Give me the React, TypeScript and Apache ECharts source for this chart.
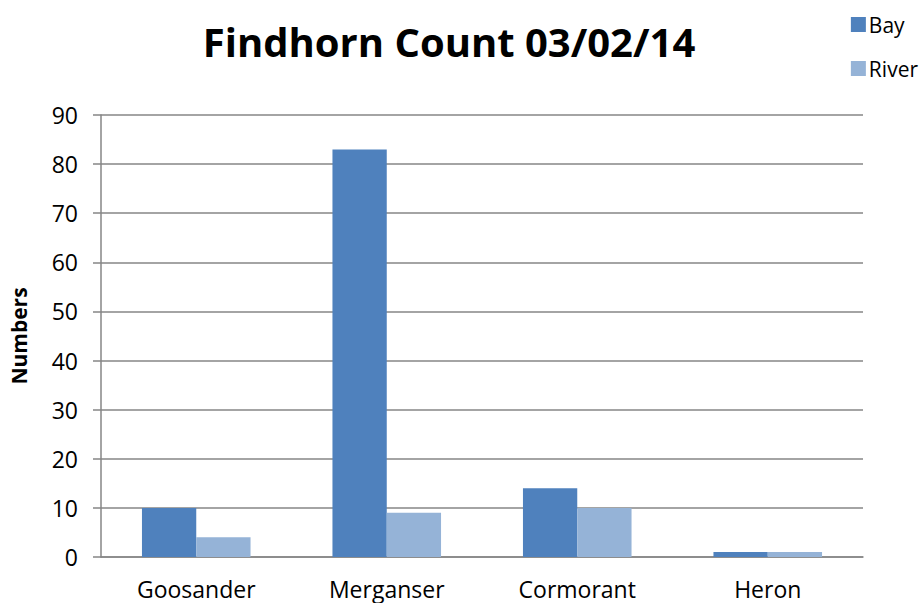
import React, { useEffect, useRef } from "react";
import * as echarts from "echarts";

const categories = ["Goosander", "Merganser", "Cormorant", "Heron"];
const bayValues = [10, 83, 14, 1];
const riverValues = [4, 9, 10, 1];
const seriesNames = ["Bay", "River"];
const titleText = "Findhorn Count 03/02/14";
const yAxisName = "Numbers";

const FONT = "'Open Sans', 'Liberation Sans', sans-serif";

export default function App() {
  const ref = useRef<HTMLDivElement>(null);
  useEffect(() => {
    const chart = echarts.init(ref.current!, null, { renderer: "svg" });
    chart.setOption({
      animation: false,
      backgroundColor: "#ffffff",
      title: {
        text: titleText,
        left: 444,
        top: 16,
        textAlign: "center",
        textStyle: { fontFamily: FONT, fontWeight: "bold", fontSize: 40, color: "#000" },
      },
      legend: {
        orient: "vertical",
        right: -2,
        top: 9,
        itemGap: 23,
        itemWidth: 15,
        itemHeight: 15,
        icon: "rect",
        data: seriesNames,
        textStyle: { fontFamily: FONT, fontSize: 21, color: "#000", padding: [0, 0, 0, -2] },
      },
      grid: { left: 96, right: 58, top: 115, bottom: 46 },
      xAxis: {
        type: "category",
        data: categories,
        axisLine: { lineStyle: { color: "#868686", width: 1.5 } },
        axisTick: { show: false },
        axisLabel: { fontFamily: FONT, fontSize: 23, color: "#000", margin: 20 },
      },
      yAxis: {
        type: "value",
        min: 0,
        max: 90,
        interval: 10,
        name: yAxisName,
        nameLocation: "middle",
        nameGap: 72,
        nameTextStyle: { fontFamily: FONT, fontSize: 21, fontWeight: "bold", color: "#000" },
        axisLine: { show: true, lineStyle: { color: "#868686", width: 1.5 } },
        axisTick: { show: true, length: 8, lineStyle: { color: "#868686", width: 1.5 } },
        splitLine: { lineStyle: { color: "#868686", width: 1.5 } },
        axisLabel: { fontFamily: FONT, fontSize: 23, color: "#000", margin: 23 },
      },
      series: [
        {
          name: seriesNames[0],
          type: "bar",
          data: bayValues,
          barGap: "0%",
          barCategoryGap: "43%",
          itemStyle: { color: "#4F81BD" },
        },
        {
          name: seriesNames[1],
          type: "bar",
          data: riverValues,
          barGap: "0%",
          barCategoryGap: "43%",
          itemStyle: { color: "#95B3D7" },
        },
      ],
    });
    return () => chart.dispose();
  }, []);
  return <div ref={ref} style={{ width: 921, height: 603, position: "absolute", left: 0, top: 0 }} />;
}
